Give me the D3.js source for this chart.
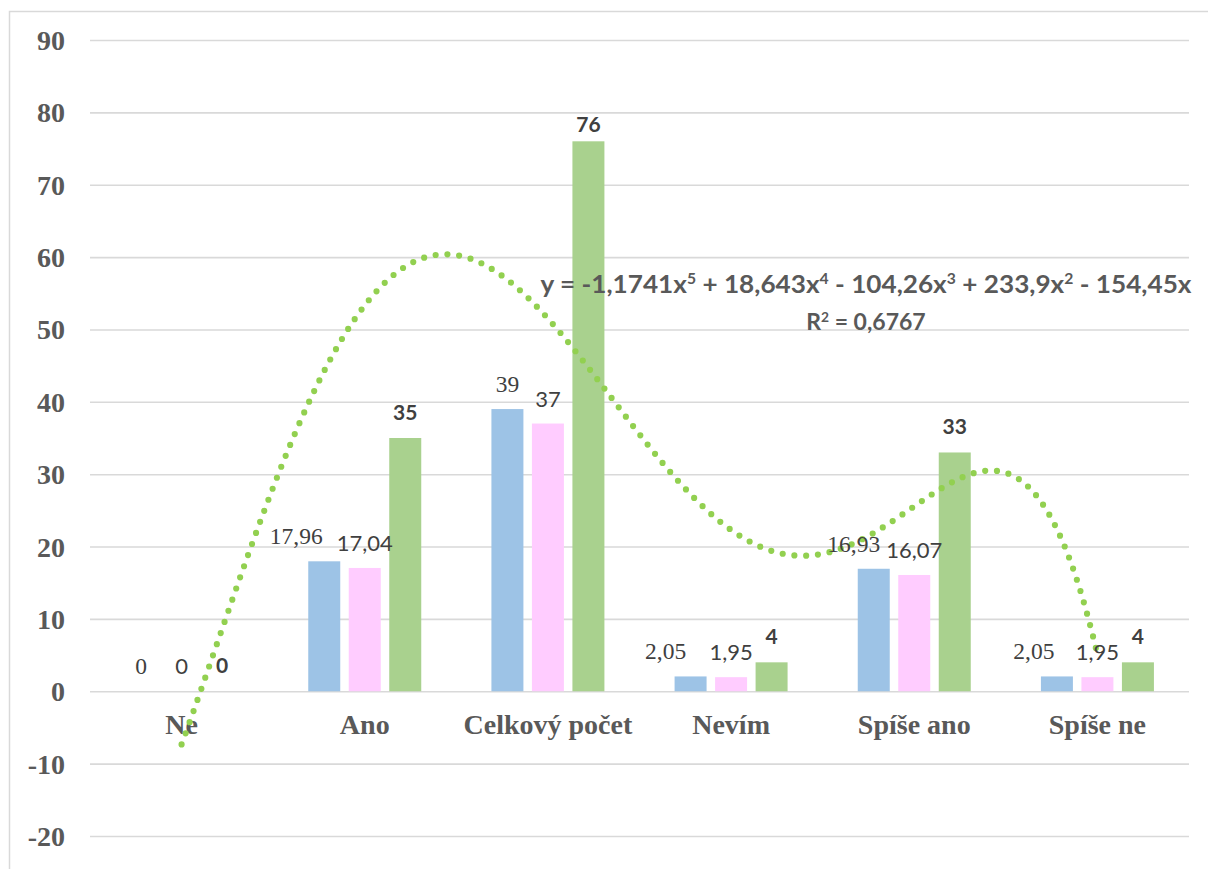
<!DOCTYPE html>
<html>
<head>
<meta charset="utf-8">
<script src="https://cdn.jsdelivr.net/npm/d3@7"></script>
<style>
  html, body { margin: 0; padding: 0; background: #ffffff; }
  svg { display: block; }
</style>
</head>
<body>
<svg id="chart" width="1208" height="869"></svg>
<script>
// Answer categories
const categories = ["Ne", "Ano", "Celkový počet", "Nevím", "Spíše ano", "Spíše ne"];
// Series values per category
const seriesNames = ["muzi", "zeny", "celkem"];
const valuesBlue  = [0, 17.96, 39, 2.05, 16.93, 2.05];
const valuesPink  = [0, 17.04, 37, 1.95, 16.07, 1.95];
const valuesGreen = [0, 35, 76, 4, 33, 4];
// Value labels as printed
const labelsBlue  = ["0", "17,96", "39", "2,05", "16,93", "2,05"];
const labelsPink  = ["0", "17,04", "37", "1,95", "16,07", "1,95"];
const labelsGreen = ["0", "35", "76", "4", "33", "4"];
// Y axis ticks
const yTicks = [-20, -10, 0, 10, 20, 30, 40, 50, 60, 70, 80, 90];
// Polynomial trend line coefficients (x^5 .. x^1), fitted over positions 1..6
const trendCoefs = [-1.1741, 18.643, -104.26, 233.9, -154.45];
const trendEquation = ["y = -1,1741x", "5", " + 18,643x", "4", " - 104,26x", "3", " + 233,9x", "2", " - 154,45x"];
const trendR2 = ["R", "2", " = 0,6767"];

// Manual nudges of some value labels (px)
const nudgeBlueX  = [0, -28, 0, -25, -20, -23];
const nudgeGreenY = [0, 0, 9, 0, 0, 0];

const SERIF = "'Liberation Serif', 'Times New Roman', 'DejaVu Serif', serif";
const SANS = "Lato, 'Open Sans', sans-serif";

const svg = d3.select("#chart");
const plotL = 90, plotR = 1189, plotT = 40, plotB = 836;

// outer chart frame
svg.append("path")
  .attr("d", "M9.5,869 L9.5,11.5 L1208,11.5")
  .attr("fill", "none").attr("stroke", "#d9d9d9").attr("stroke-width", 1.5);

const x = d3.scaleBand().domain(categories).range([plotL, plotR]).padding(0);
const bw = x.bandwidth();
const x1 = d3.scaleBand().domain(seriesNames)
  .range([bw / 2 - 56.5, bw / 2 + 56.5]).paddingInner(0.21).paddingOuter(0);
const y = d3.scaleLinear().domain([-20, 90]).range([plotB, plotT]);

// y axis with gridlines
const yAxis = svg.append("g")
  .attr("transform", `translate(${plotL},0)`)
  .call(d3.axisLeft(y).tickValues(yTicks).tickSize(-(plotR - plotL)).tickPadding(25).tickFormat(d => String(d)));
yAxis.select(".domain").remove();
yAxis.selectAll(".tick line").attr("stroke", "#d9d9d9").attr("stroke-width", 1.6);
yAxis.selectAll(".tick text")
  .attr("fill", "#595959")
  .style("font-family", SERIF)
  .style("font-weight", "bold")
  .style("font-size", "28px")
  .attr("dy", "0.34em");

// bars
const series = [
  { key: "muzi", values: valuesBlue, color: "#9dc3e6" },
  { key: "zeny", values: valuesPink, color: "#ffccff" },
  { key: "celkem", values: valuesGreen, color: "#a9d18e" }
];

const groups = svg.append("g");
series.forEach(s => {
  groups.selectAll(null)
    .data(s.values.map((v, i) => ({ v, i, cat: categories[i] })))
    .join("rect")
    .attr("x", d => x(d.cat) + x1(s.key))
    .attr("width", x1.bandwidth())
    .attr("y", d => y(Math.max(0, d.v)))
    .attr("height", d => Math.abs(y(d.v) - y(0)))
    .attr("fill", s.color);
});

// category labels
const xAxis = svg.append("g")
  .attr("transform", `translate(0,${y(0)})`)
  .call(d3.axisBottom(x).tickSize(0));
xAxis.select(".domain").remove();
xAxis.selectAll(".tick text")
  .attr("y", 43).attr("dy", 0)
  .attr("fill", "#595959")
  .style("font-family", SERIF)
  .style("font-weight", "bold")
  .style("font-size", "28px");

// trend line (dotted)
const xt = d3.scaleLinear().domain([1, 6])
  .range([x(categories[0]) + bw / 2, x(categories[5]) + bw / 2]);
const poly = t => trendCoefs.reduce((acc, c, k) => acc + c * Math.pow(t, 5 - k), 0);
const trendPts = d3.range(1, 6.0001, 0.01).map(t => [xt(t), y(poly(t))]);
svg.append("path")
  .datum(trendPts)
  .attr("d", d3.line())
  .attr("fill", "none")
  .attr("stroke", "#92d050")
  .attr("stroke-width", 6.2)
  .attr("stroke-linecap", "round")
  .attr("stroke-dasharray", "0 11.8");

// value labels
const lbl = svg.append("g");
lbl.selectAll(null).data(valuesBlue).join("text")
  .attr("x", (d, i) => x(categories[i]) + x1("muzi") + x1.bandwidth() / 2 + nudgeBlueX[i])
  .attr("y", d => y(d) - 17)
  .attr("text-anchor", "middle")
  .attr("fill", "#404040")
  .style("font-family", SERIF)
  .style("font-size", "23.5px")
  .text((d, i) => labelsBlue[i]);

lbl.selectAll(null).data(valuesPink).join("text")
  .attr("x", (d, i) => x(categories[i]) + x1("zeny") + x1.bandwidth() / 2)
  .attr("y", d => y(d) - 17)
  .attr("text-anchor", "middle")
  .attr("fill", "#404040")
  .style("font-family", SANS)
  .style("font-size", "22px")
  .text((d, i) => labelsPink[i]);

lbl.selectAll(null).data(valuesGreen).join("text")
  .attr("x", (d, i) => x(categories[i]) + x1("celkem") + x1.bandwidth() / 2)
  .attr("y", (d, i) => y(d) - 18 + nudgeGreenY[i])
  .attr("text-anchor", "middle")
  .attr("fill", "#404040")
  .style("font-family", SANS)
  .style("font-weight", "bold")
  .style("font-size", "21px")
  .text((d, i) => labelsGreen[i]);

// trend equation and R²
function richLine(parts, ypos, width, size) {
  const t = svg.append("text")
    .attr("x", 866).attr("y", ypos)
    .attr("text-anchor", "middle")
    .attr("fill", "#595959")
    .style("font-family", SANS)
    .style("font-weight", "bold")
    .style("font-size", size + "px");
  if (width) t.attr("textLength", width).attr("lengthAdjust", "spacingAndGlyphs");
  parts.forEach((p, k) => {
    const sp = t.append("tspan").text(p);
    if (k % 2 === 1) sp.attr("baseline-shift", "super").style("font-size", (size * 0.6) + "px");
  });
  return t;
}
richLine(trendEquation, 293, 651, 25);
richLine(trendR2, 330, null, 23);
</script>
</body>
</html>
